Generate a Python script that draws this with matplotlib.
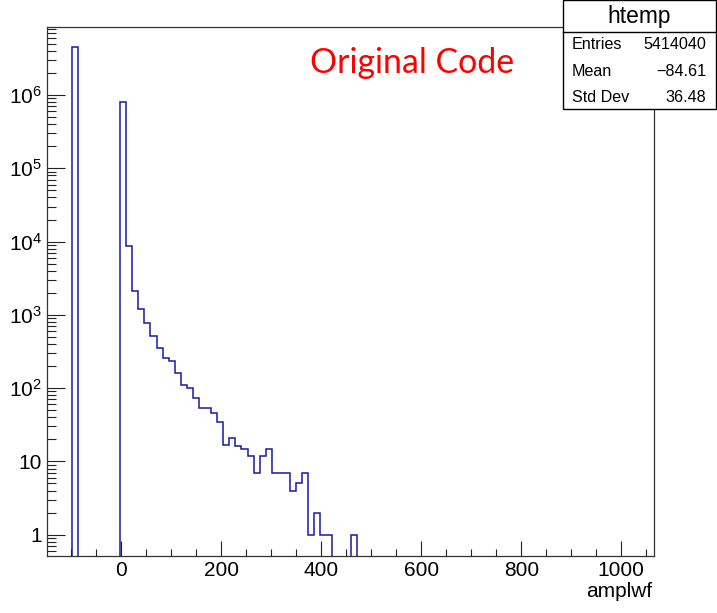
import numpy as np
import matplotlib
matplotlib.use("Agg")
import matplotlib.pyplot as plt
from matplotlib.ticker import FixedLocator, MultipleLocator, FuncFormatter

plt.rcParams['font.family'] = ['Liberation Sans', 'DejaVu Sans']
plt.rcParams['mathtext.default'] = 'regular'

# histogram htemp: 100 bins between x_min and x_max
x_min = -148.0
x_max = 1065.4
n_bins = 100
# counts for bins 0..50, the rest are empty
counts_first = [0, 0, 0, 0, 4540000, 0, 0, 0, 0, 0,
                0, 0, 800000, 8770, 2085, 1211, 773, 507, 352, 254,
                236, 161, 111, 99, 74, 53, 53, 46, 34, 17,
                21, 16, 15, 12, 7, 12, 15, 7, 7, 7,
                4, 5, 7, 1, 2, 1, 1, 0, 0, 0,
                1]
counts = np.zeros(n_bins)
counts[:len(counts_first)] = counts_first

x_ticks = [0, 200, 400, 600, 800, 1000]
y_decades = [1, 10, 100, 1e3, 1e4, 1e5, 1e6]
y_min, y_max = 0.512, 8.55e6

stat_names = ["Entries", "Mean", "Std Dev"]
stat_values = ["5414040", "\u221284.61", "36.48"]

fig = plt.figure(figsize=(7.17, 6.13), dpi=100)
W, H = 717.0, 613.0
ax = fig.add_axes([47.3 / W, 1 - 556 / H, (654 - 47.3) / W, (556 - 26.7) / H])

edges = np.linspace(x_min, x_max, n_bins + 1)
shown = np.where(counts > 0, counts, 1e-3)
ax.stairs(shown, edges, baseline=None, color='#1818a8', lw=1.1)

ax.set_yscale('log')
ax.set_xlim(x_min, x_max)
ax.set_ylim(y_min, y_max)

ax.xaxis.set_major_locator(FixedLocator(x_ticks))
ax.xaxis.set_minor_locator(MultipleLocator(50))
minor_y = [m * d for d in [0.1] + y_decades for m in range(2, 10)]
minor_y = [v for v in minor_y if y_min < v < y_max]
ax.yaxis.set_major_locator(FixedLocator(y_decades))
ax.yaxis.set_minor_locator(FixedLocator(minor_y))


def ylab(v, pos):
    e = int(round(np.log10(v)))
    if e == 0:
        return "1"
    if e == 1:
        return "10"
    return r"$10^{%d}$" % e


ax.yaxis.set_major_formatter(FuncFormatter(ylab))
ax.yaxis.set_minor_formatter(FuncFormatter(lambda v, p: ""))

ax.tick_params(axis='x', which='major', direction='in', length=10.8, width=0.8,
               labelsize=15, pad=3.5, top=False, colors='#222222')
ax.tick_params(axis='x', which='minor', direction='in', length=5.4, width=0.8,
               top=False, colors='#222222')
ax.tick_params(axis='y', which='major', direction='in', length=13, width=0.8,
               labelsize=15, pad=4, right=False, colors='#222222')
ax.tick_params(axis='y', which='minor', direction='in', length=6.5, width=0.8,
               right=False, colors='#222222')
for lab in ax.get_xticklabels() + ax.get_yticklabels():
    lab.set_color('black')
for s in ax.spines.values():
    s.set_linewidth(0.9)
    s.set_color('#333333')

fig.text(652 / W, 1 - 597 / H, "amplwf", ha='right', va='baseline', fontsize=15)

fig.text(310 / W, 1 - 73 / H, "Original Code", ha='left', va='baseline',
         fontsize=24.4, color='red', family=['Lato', 'DejaVu Sans'])

# stats box
bx0, bx1, by0, by1 = 563.3, 715.7, 0.5, 109.0
box = plt.Rectangle((bx0 / W, 1 - by1 / H), (bx1 - bx0) / W, (by1 - by0) / H,
                    transform=fig.transFigure, facecolor='white',
                    edgecolor='black', lw=1.0, zorder=5)
fig.patches.append(box)
fig.add_artist(plt.Line2D([bx0 / W, bx1 / W], [1 - 32.3 / H, 1 - 32.3 / H],
                          transform=fig.transFigure, color='black', lw=1.0, zorder=6))
fig.text((bx0 + bx1) / 2 / W, 1 - 23.3 / H, "htemp", ha='center', va='baseline',
         fontsize=16.4, zorder=7)
row_y = [49.0, 76.0, 101.7]
for name, val, yy in zip(stat_names, stat_values, row_y):
    fig.text(571.7 / W, 1 - yy / H, name, ha='left', va='baseline', fontsize=11.6, zorder=7)
    fig.text(706 / W, 1 - yy / H, val, ha='right', va='baseline', fontsize=11.6, zorder=7)

fig.savefig("out.png", dpi=100)
